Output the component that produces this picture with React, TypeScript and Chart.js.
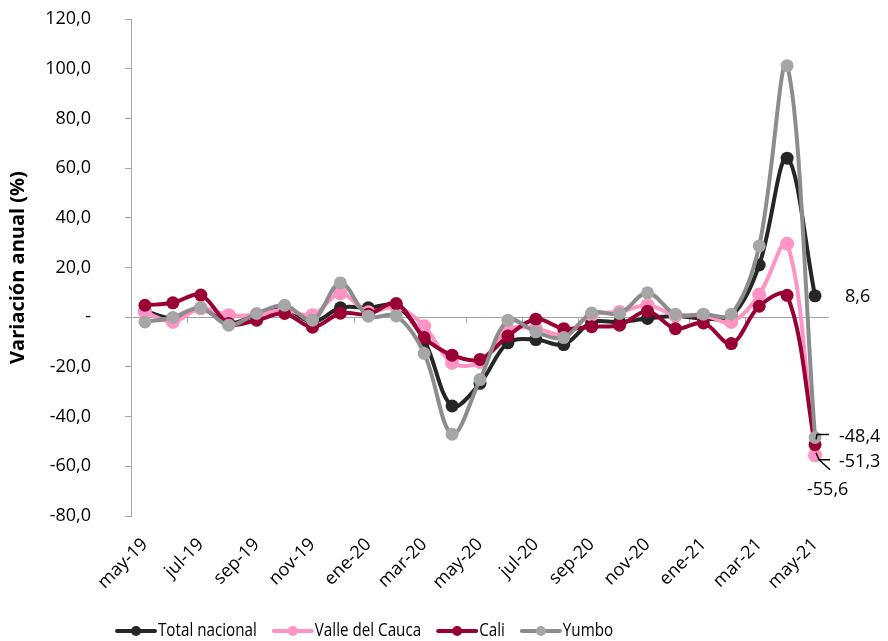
import React, { useEffect, useRef } from 'react';
import { Chart, registerables } from 'chart.js';

Chart.register(...registerables);

const months = [
  'may-19', 'jun-19', 'jul-19', 'ago-19', 'sep-19', 'oct-19', 'nov-19', 'dic-19',
  'ene-20', 'feb-20', 'mar-20', 'abr-20', 'may-20', 'jun-20', 'jul-20', 'ago-20',
  'sep-20', 'oct-20', 'nov-20', 'dic-20', 'ene-21', 'feb-21', 'mar-21', 'abr-21', 'may-21',
];

const totalNacional = [2.5, -0.5, 3.5, -2.5, 1.0, 3.5, -2.0, 3.8, 3.8, 4.5, -9.3, -35.7, -26.6, -10.3, -9.0, -11.0, -2.0, -2.0, -0.5, 0.5, -0.5, 0.3, 21.0, 64.0, 8.6];
const valleDelCauca = [2.1, -1.9, 3.6, 0.8, 1.0, 3.0, 0.8, 9.6, 2.0, 4.2, -3.6, -18.4, -18.0, -5.0, -4.5, -7.0, 1.0, 2.1, 4.8, 0.8, 0.8, -1.9, 9.1, 29.6, -55.6];
const cali = [4.8, 5.8, 8.9, -2.5, -1.2, 1.5, -4.0, 1.6, 1.2, 5.5, -8.2, -15.3, -17.0, -7.6, -0.8, -4.6, -3.8, -3.2, 2.4, -4.6, -2.3, -10.6, 4.4, 8.8, -51.3];
const yumbo = [-1.9, -0.1, 3.8, -3.2, 1.5, 4.8, -1.2, 13.8, 0.4, 0.5, -14.6, -47.1, -25.1, -1.2, -5.9, -8.2, 1.7, 1.5, 9.8, 1.2, 1.2, 1.2, 28.7, 101.2, -48.4];

const seriesNames = ['Total nacional', 'Valle del Cauca', 'Cali', 'Yumbo'];
const lineColors = ['#262626', '#FF93C4', '#990033', '#8C8C8C'];
const markerColors = ['#262626', '#FF93C4', '#990033', '#A6A6A6'];

const yMin = -80;
const yMax = 120;
const yStep = 20;

const axisGray = '#A6A6A6';
const FONT = '"Open Sans", "Noto Sans", sans-serif';

const fmt = (v: number) => v.toFixed(1).replace('.', ',');

const customPlugin = {
  id: 'customDraw',
  beforeDatasetsDraw(chart: any) {
    const { ctx } = chart;
    const x = chart.scales.x;
    const y = chart.scales.y;
    const y0 = y.getPixelForValue(0);
    ctx.save();
    ctx.strokeStyle = axisGray;
    ctx.lineWidth = 1;
    for (let i = 2; i < months.length; i += 2) {
      const px = Math.round((x.getPixelForValue(i - 1) + x.getPixelForValue(i)) / 2) + 0.5;
      ctx.beginPath();
      ctx.moveTo(px, y0);
      ctx.lineTo(px, y0 + 6);
      ctx.stroke();
    }
    ctx.restore();
  },
  afterDatasetsDraw(chart: any) {
    const { ctx } = chart;
    const last = months.length - 1;
    const pT = chart.getDatasetMeta(0).data[last];
    const pV = chart.getDatasetMeta(1).data[last];
    const pC = chart.getDatasetMeta(2).data[last];
    const pY = chart.getDatasetMeta(3).data[last];
    ctx.save();
    ctx.fillStyle = '#000';
    ctx.font = `18px ${FONT}`;
    ctx.textBaseline = 'middle';
    ctx.textAlign = 'left';
    ctx.fillText(fmt(totalNacional[last]), pT.x + 30, pT.y + 1);

    ctx.strokeStyle = '#000';
    ctx.lineWidth = 1.5;
    ctx.beginPath();
    ctx.moveTo(pY.x + 1, pY.y + 2);
    ctx.lineTo(pY.x + 2, pY.y - 3);
    ctx.lineTo(pY.x + 14, pY.y - 3);
    ctx.stroke();
    ctx.fillText(fmt(yumbo[last]), pY.x + 24, pY.y - 1);

    ctx.beginPath();
    ctx.moveTo(pC.x + 1, pC.y + 8);
    ctx.lineTo(pC.x + 4, pC.y + 15);
    ctx.lineTo(pC.x + 15, pC.y + 15);
    ctx.moveTo(pC.x + 4, pC.y + 15);
    ctx.lineTo(pC.x + 15, pC.y + 25);
    ctx.stroke();
    ctx.fillText(fmt(cali[last]), pC.x + 24, pC.y + 17);

    ctx.fillText(fmt(valleDelCauca[last]), pV.x - 8, pV.y + 35);
    ctx.restore();
  },
  afterDraw(chart: any) {
    const { ctx } = chart;
    ctx.save();
    const sx = 0.8;
    ctx.font = `19px ${FONT}`;
    ctx.textBaseline = 'middle';
    ctx.textAlign = 'left';
    let x = chart.chartArea.left - 16;
    const y = chart.height - 10;
    seriesNames.forEach((name, i) => {
      ctx.strokeStyle = lineColors[i];
      ctx.lineWidth = 4;
      ctx.lineCap = 'round';
      ctx.beginPath();
      ctx.moveTo(x + 2, y);
      ctx.lineTo(x + 40, y);
      ctx.stroke();
      ctx.fillStyle = markerColors[i];
      ctx.beginPath();
      ctx.arc(x + 21, y, 5, 0, Math.PI * 2);
      ctx.fill();
      x += 43;
      ctx.fillStyle = '#000';
      ctx.save();
      ctx.translate(x, y);
      ctx.scale(sx, 1);
      ctx.fillText(name, 0, 0);
      ctx.restore();
      x += ctx.measureText(name).width * sx + 15;
    });
    ctx.restore();
  },
};

export default function App() {
  const canvasRef = useRef<HTMLCanvasElement | null>(null);

  useEffect(() => {
    document.body.style.margin = '0';
    const canvas = canvasRef.current;
    if (!canvas) return;
    const seriesData = [totalNacional, valleDelCauca, cali, yumbo];
    const chart = new Chart(canvas, {
      type: 'line',
      data: {
        labels: months,
        datasets: seriesData.map((d, i) => ({
          label: seriesNames[i],
          data: d,
          borderColor: lineColors[i],
          backgroundColor: markerColors[i],
          pointBackgroundColor: markerColors[i],
          pointBorderColor: markerColors[i],
          pointBorderWidth: 0,
          pointRadius: i === 1 ? 7 : 6.5,
          borderWidth: 4,
          tension: 0.35,
          fill: false,
          order: 4 - i,
        })),
      },
      options: {
        responsive: false,
        animation: false,
        devicePixelRatio: 1,
        layout: { padding: { top: 19, right: 59, left: 0, bottom: 0 } },
        plugins: {
          legend: { display: false },
          tooltip: { enabled: false },
        },
        scales: {
          x: {
            type: 'category',
            offset: true,
            grid: { display: false, offset: true },
            border: { display: false },
            ticks: {
              autoSkip: false,
              minRotation: 45,
              maxRotation: 45,
              padding: 10,
              color: '#000',
              font: { family: FONT, size: 18 },
              callback: (_v: any, idx: number) => (idx % 2 === 0 ? months[idx] : ''),
            },
            afterFit: (scale: any) => {
              scale.height = 125;
            },
          },
          y: {
            min: yMin,
            max: yMax,
            title: {
              display: true,
              text: 'Variación anual (%)',
              color: '#000',
              font: { family: FONT, size: 20, weight: 'bold' },
              padding: { top: 6, bottom: 0 },
            },
            grid: {
              drawOnChartArea: true,
              color: (c: any) => (c.tick && c.tick.value === 0 ? axisGray : 'rgba(0,0,0,0)'),
              tickColor: axisGray,
              tickLength: 6,
              lineWidth: 1,
            },
            border: { display: true, color: axisGray, width: 1 },
            ticks: {
              stepSize: yStep,
              padding: 34,
              color: '#000',
              font: { family: FONT, size: 18 },
              callback: (v: any) => (Number(v) === 0 ? '-' : fmt(Number(v))),
            },
            afterFit: (scale: any) => {
              scale.width = 131;
              scale.paddingTop = 10;
              scale.paddingBottom = 10;
            },
          },
        },
      },
      plugins: [customPlugin],
    });
    return () => {
      chart.destroy();
    };
  }, []);

  return (
    <div style={{ width: 888, height: 641 }}>
      <canvas ref={canvasRef} width={888} height={641} style={{ width: 888, height: 641, display: 'block' }} />
    </div>
  );
}
